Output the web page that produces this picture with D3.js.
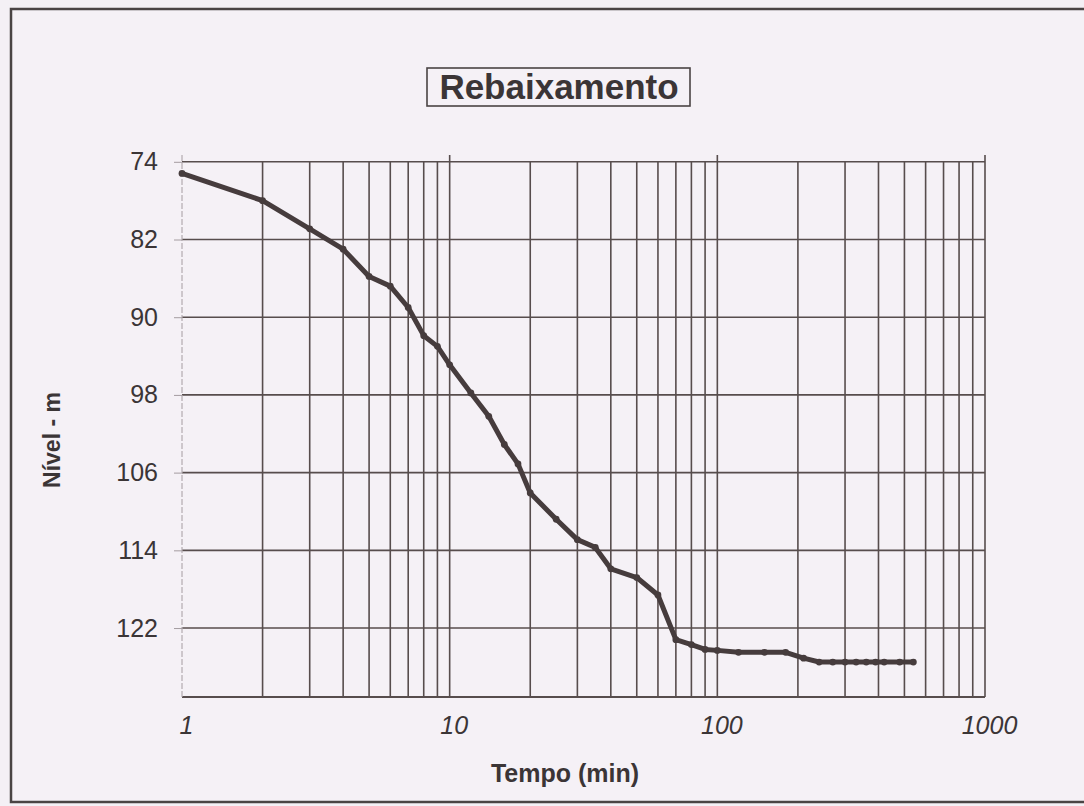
<!DOCTYPE html>
<html>
<head>
<meta charset="utf-8">
<script src="https://cdn.jsdelivr.net/npm/d3@7"></script>
<style>
  html, body { margin: 0; padding: 0; background: #f4f0f5; }
  svg { display: block; }
  text { font-family: "Liberation Sans", Arial, sans-serif; fill: #3b3536; }
</style>
</head>
<body>
<svg id="chart" width="1084" height="806"></svg>
<script>
// ---- data ----
const tempo = [1, 2, 3, 4, 5, 6, 7, 8, 9, 10, 12, 14, 16, 18, 20, 25, 30, 35, 40, 50, 60, 70, 80, 90, 100, 120, 150, 180, 210, 240, 270, 300, 330, 360, 390, 420, 480, 540];
const nivel = [75.2, 78.0, 80.9, 83.0, 85.8, 86.8, 89.0, 91.9, 93.0, 94.9, 97.8, 100.2, 103.1, 105.1, 108.1, 110.8, 112.9, 113.7, 115.9, 116.8, 118.6, 123.2, 123.7, 124.2, 124.3, 124.5, 124.5, 124.5, 125.1, 125.5, 125.5, 125.5, 125.5, 125.5, 125.5, 125.5, 125.5, 125.5];
const yTicks = [74, 82, 90, 98, 106, 114, 122];
const xTickLabels = [1, 10, 100, 1000];
const title = "Rebaixamento";
const xTitle = "Tempo (min)";
const yTitle = "Nível - m";

(function () {
const svg = d3.select("#chart");
const ink = "#463c3d";

// outer frame
svg.append("rect").attr("x", 11).attr("y", 9).attr("width", 1090).attr("height", 793)
  .attr("fill", "#f5f1f6").attr("stroke", "#4a4444").attr("stroke-width", 2.5);

const pL = 182, pR = 985, pT = 155, pB = 697;
const x = d3.scaleLog().domain([1, 1000]).range([pL, pR]);
const y = d3.scaleLinear().domain([73.3, 129.1]).range([pT, pB]);

// vertical gridlines (log minor + major)
const vLines = [];
for (let k = 0; k < 3; k++) for (let m = 1; m <= 9; m++) vLines.push(m * Math.pow(10, k));
vLines.push(1000);
const g = svg.append("g");
g.selectAll("line.v").data(vLines.filter(d => d !== 1)).join("line")
  .attr("x1", d => x(d)).attr("x2", d => x(d))
  .attr("y1", d => (Math.abs(Math.log10(d) % 1) < 1e-9) ? pT : y(74))
  .attr("y2", pB)
  .attr("stroke", "#574d4d").attr("stroke-width", 1.6);

// horizontal gridlines
g.selectAll("line.h").data(yTicks).join("line")
  .attr("x1", pL).attr("x2", pR)
  .attr("y1", d => y(d)).attr("y2", d => y(d))
  .attr("stroke", "#574d4d").attr("stroke-width", 1.6);

// bottom axis line
g.append("line").attr("x1", pL).attr("x2", pR).attr("y1", pB).attr("y2", pB)
  .attr("stroke", "#574d4d").attr("stroke-width", 1.8);

// left axis (faint)
const yAxis = d3.axisLeft(y).tickValues(yTicks).tickSize(8).tickPadding(16).tickFormat(d3.format("d"));
const ya = svg.append("g").attr("transform", `translate(${pL},0)`).call(yAxis);
ya.select(".domain").attr("stroke", "#b3abb0").attr("stroke-width", 1.2).attr("stroke-dasharray", "6,2")
  .attr("d", `M0,${pT}V${pB}`);
ya.selectAll(".tick line").attr("stroke", "#a49ca0");
ya.selectAll(".tick text").style("font-size", "25px").style("fill", "#3b3536");

// x labels
const xAxis = d3.axisBottom(x).tickValues(xTickLabels).tickSize(0).tickPadding(19).tickFormat(d3.format("d"));
const xa = svg.append("g").attr("transform", `translate(4,${pB})`).call(xAxis);
xa.select(".domain").remove();
xa.selectAll(".tick text").style("font-size", "25px").style("font-style", "italic").style("fill", "#3b3536");

// line
const line = d3.line().x((d, i) => x(tempo[i])).y(d => y(d));
svg.append("path").datum(nivel).attr("d", line)
  .attr("fill", "none").attr("stroke", ink).attr("stroke-width", 5)
  .attr("stroke-linejoin", "round").attr("stroke-linecap", "round");
svg.selectAll("circle.pt").data(nivel).join("circle")
  .attr("cx", (d, i) => x(tempo[i])).attr("cy", d => y(d)).attr("r", 3.4)
  .attr("fill", ink);

// title box
svg.append("rect").attr("x", 427).attr("y", 68).attr("width", 263).attr("height", 38)
  .attr("fill", "none").attr("stroke", "#4a4444").attr("stroke-width", 1.6);
svg.append("text").attr("x", 559).attr("y", 99).attr("text-anchor", "middle")
  .style("font-size", "35px").style("font-weight", "bold").text(title);

// axis titles
svg.append("text").attr("x", 565).attr("y", 782).attr("text-anchor", "middle")
  .style("font-size", "25px").style("font-weight", "bold").text(xTitle);
svg.append("text").attr("transform", "translate(60,440) rotate(-90)").attr("text-anchor", "middle")
  .style("font-size", "23px").style("font-weight", "bold").text(yTitle);
})();
</script>
</body>
</html>
